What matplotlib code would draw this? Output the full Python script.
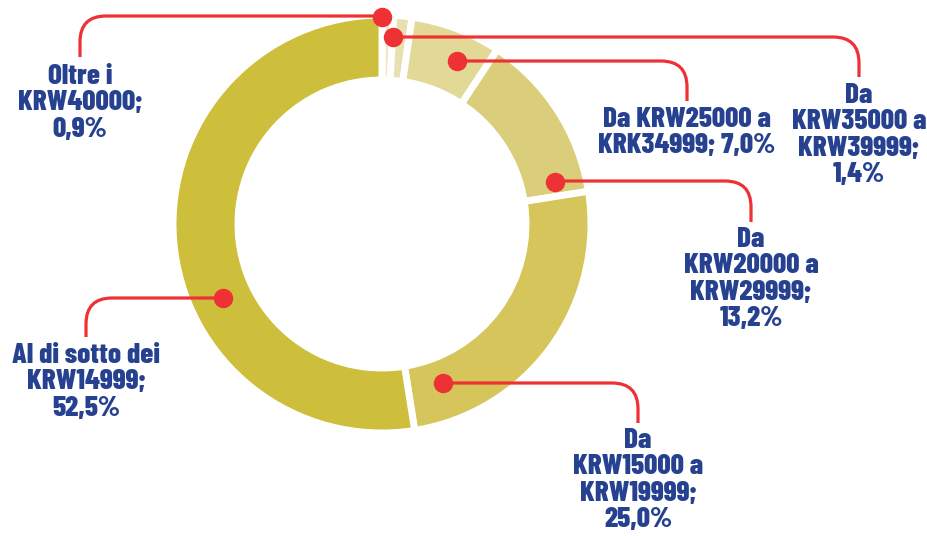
import matplotlib
matplotlib.use("Agg")
import matplotlib.pyplot as plt
from matplotlib.path import Path
from matplotlib.patches import PathPatch

# Distribuzione della spesa (fasce in KRW)
etichette = [
    "Oltre i\nKRW40000;\n0,9%",
    "Da\nKRW35000 a\nKRW39999;\n1,4%",
    "Da KRW25000 a\nKRK34999; 7,0%",
    "Da\nKRW20000 a\nKRW29999;\n13,2%",
    "Da\nKRW15000 a\nKRW19999;\n25,0%",
    "Al di sotto dei\nKRW14999;\n52,5%",
]
valori = [0.9, 1.4, 7.0, 13.2, 25.0, 52.5]
colori = ["#EEE8C6", "#E8E0B0", "#E2D996", "#DBCE7B", "#D5C55B", "#CDBF3B"]

# Coordinate in pixel (origine in alto a sinistra)
W, H = 928, 536
centro = (382, 224)
r_est, r_int = 209, 144

# punto sul settore, quota della linea orizzontale, x della discesa, y fine linea, y testo
richiami = [
    ((382, 17), 16, 80, 57, 64),
    ((393, 37), 37, 859, 77, 83),
    ((457, 61), 61, 687, 101, 107),
    ((555, 182), 181, 751, 222, 227),
    ((443, 383), 383, 638, 423, 428),
    ((223, 298), 298, 86, 337, 343),
]

ROSSO = "#EE3134"
BLU = "#26418F"


def fy(y):
    return H - y


fig = plt.figure(figsize=(W / 100, H / 100), dpi=100)
ax = fig.add_axes([0, 0, 1, 1])

ax.pie(valori, colors=colori, startangle=90, counterclock=False,
       center=(centro[0], fy(centro[1])), radius=r_est,
       wedgeprops=dict(width=r_est - r_int, edgecolor="white", linewidth=5))

rc = 26  # raggio dell'angolo arrotondato
for (punto, yh, xv, yfine, ytesto), testo in zip(richiami, etichette):
    x0, y0 = punto
    s = 1 if xv > x0 else -1
    verts = [(x0, fy(y0)), (x0, fy(yh)), (xv - s * rc, fy(yh)), (xv, fy(yh)),
             (xv, fy(yh + rc)), (xv, fy(yfine))]
    codes = [Path.MOVETO, Path.LINETO, Path.LINETO, Path.CURVE3, Path.CURVE3, Path.LINETO]
    ax.add_patch(PathPatch(Path(verts, codes), fill=False, edgecolor=ROSSO,
                           linewidth=2.3, capstyle="butt", zorder=3))
    ax.plot(x0, fy(y0), "o", color=ROSSO, markersize=13, zorder=4)
    ax.text(xv, fy(ytesto), testo, ha="center", va="top", color=BLU,
            fontsize=21, fontweight=800, linespacing=1.07,
            family=["Barlow Condensed", "DejaVu Sans"])

ax.set_xlim(0, W)
ax.set_ylim(0, H)
ax.set_aspect("auto")
ax.axis("off")

fig.savefig("out.png", dpi=100)
